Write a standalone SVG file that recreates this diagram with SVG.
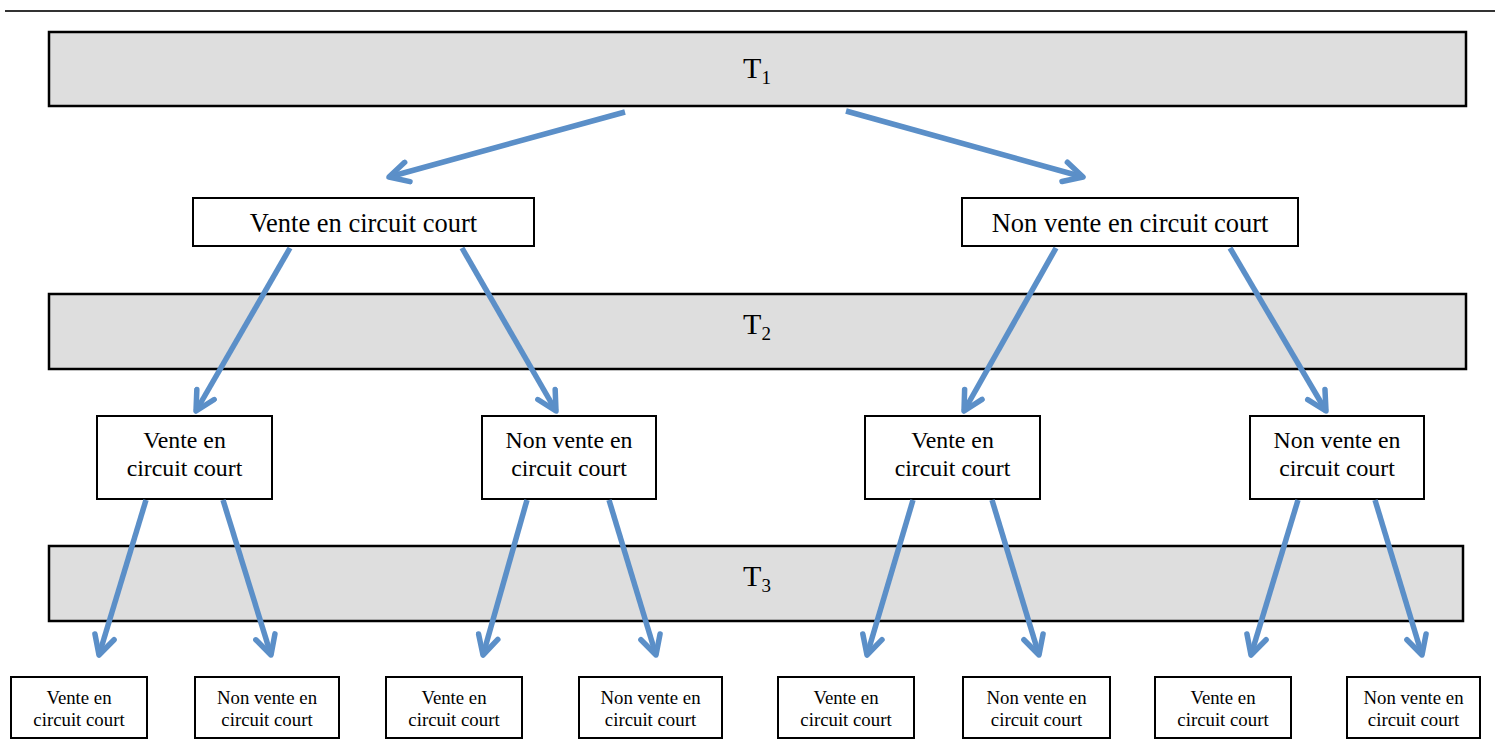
<svg xmlns="http://www.w3.org/2000/svg" width="1500" height="744" viewBox="0 0 1500 744">
<style>
.band{fill:#dedede;stroke:#000;stroke-width:2.5}
.box{fill:#fff;stroke:#000;stroke-width:2}
.t{font-family:"Liberation Serif","Times New Roman",serif;fill:#000;text-anchor:middle}
.l1{font-size:26.5px}
.l2{font-size:23.8px}
.l3{font-size:18.8px}
.tb{font-size:30px}
.arr{stroke:#5b8fc8;stroke-width:5.5;fill:none;marker-end:url(#ah)}
</style>
<defs>
<marker id="ah" viewBox="0 0 26 26" refX="23" refY="13" markerWidth="26" markerHeight="26" markerUnits="userSpaceOnUse" orient="auto">
<path d="M4,3 L23,13 L4,23" fill="none" stroke="#5b8fc8" stroke-width="5.5" stroke-linecap="round" stroke-linejoin="round"/>
</marker>
</defs>
<line x1="5" y1="11" x2="1495" y2="11" stroke="#333" stroke-width="2"/>
<g id="T1"><rect class="band" x="49" y="32" width="1417" height="74"/><text class="t tb" x="757" y="78">T<tspan font-size="19" dy="6">1</tspan></text></g>
<g id="T2"><rect class="band" x="49" y="294" width="1417" height="75"/><text class="t tb" x="757" y="334">T<tspan font-size="19" dy="6">2</tspan></text></g>
<g id="T3"><rect class="band" x="49" y="546" width="1414" height="75"/><text class="t tb" x="757" y="586">T<tspan font-size="19" dy="6">3</tspan></text></g>

<g id="n1a"><rect class="box" x="193" y="198" width="341" height="48"/><text class="t l1" x="363.5" y="232">Vente en circuit court</text></g>
<g id="n1b"><rect class="box" x="962" y="198" width="336" height="48"/><text class="t l1" x="1130" y="232">Non vente en circuit court</text></g>

<g id="n2a"><rect class="box" x="97" y="416" width="175" height="83"/><text class="t l2" x="184.5" y="448">Vente en</text><text class="t l2" x="184.5" y="476">circuit court</text></g>
<g id="n2b"><rect class="box" x="482" y="416" width="174" height="83"/><text class="t l2" x="569" y="448">Non vente en</text><text class="t l2" x="569" y="476">circuit court</text></g>
<g id="n2c"><rect class="box" x="865" y="416" width="175" height="83"/><text class="t l2" x="952.5" y="448">Vente en</text><text class="t l2" x="952.5" y="476">circuit court</text></g>
<g id="n2d"><rect class="box" x="1250" y="416" width="174" height="83"/><text class="t l2" x="1337" y="448">Non vente en</text><text class="t l2" x="1337" y="476">circuit court</text></g>

<g id="n3a"><rect class="box" x="11" y="677" width="136" height="61"/><text class="t l3" x="79" y="704">Vente en</text><text class="t l3" x="79" y="726">circuit court</text></g>
<g id="n3b"><rect class="box" x="195" y="677" width="144" height="61"/><text class="t l3" x="267" y="704">Non vente en</text><text class="t l3" x="267" y="726">circuit court</text></g>
<g id="n3c"><rect class="box" x="386" y="677" width="136" height="61"/><text class="t l3" x="454" y="704">Vente en</text><text class="t l3" x="454" y="726">circuit court</text></g>
<g id="n3d"><rect class="box" x="579" y="677" width="143" height="61"/><text class="t l3" x="650.5" y="704">Non vente en</text><text class="t l3" x="650.5" y="726">circuit court</text></g>
<g id="n3e"><rect class="box" x="778" y="677" width="136" height="61"/><text class="t l3" x="846" y="704">Vente en</text><text class="t l3" x="846" y="726">circuit court</text></g>
<g id="n3f"><rect class="box" x="963" y="677" width="147" height="61"/><text class="t l3" x="1036.5" y="704">Non vente en</text><text class="t l3" x="1036.5" y="726">circuit court</text></g>
<g id="n3g"><rect class="box" x="1155" y="677" width="136" height="61"/><text class="t l3" x="1223" y="704">Vente en</text><text class="t l3" x="1223" y="726">circuit court</text></g>
<g id="n3h"><rect class="box" x="1347" y="677" width="133" height="61"/><text class="t l3" x="1413.5" y="704">Non vente en</text><text class="t l3" x="1413.5" y="726">circuit court</text></g>

<g id="connectors">
<line class="arr" x1="625" y1="112" x2="389" y2="177"/>
<line class="arr" x1="846" y1="111" x2="1083" y2="177"/>
<line class="arr" x1="290" y1="248" x2="196" y2="411"/>
<line class="arr" x1="462" y1="248" x2="556" y2="411"/>
<line class="arr" x1="1056" y1="248" x2="964" y2="411"/>
<line class="arr" x1="1230" y1="248" x2="1326" y2="411"/>
<line class="arr" x1="146" y1="500" x2="99" y2="655"/>
<line class="arr" x1="223" y1="500" x2="271" y2="655"/>
<line class="arr" x1="527" y1="500" x2="483" y2="655"/>
<line class="arr" x1="609" y1="500" x2="656" y2="655"/>
<line class="arr" x1="913" y1="500" x2="867" y2="655"/>
<line class="arr" x1="992" y1="500" x2="1039" y2="655"/>
<line class="arr" x1="1298" y1="500" x2="1251" y2="655"/>
<line class="arr" x1="1375" y1="500" x2="1422" y2="655"/>
</g>
</svg>
